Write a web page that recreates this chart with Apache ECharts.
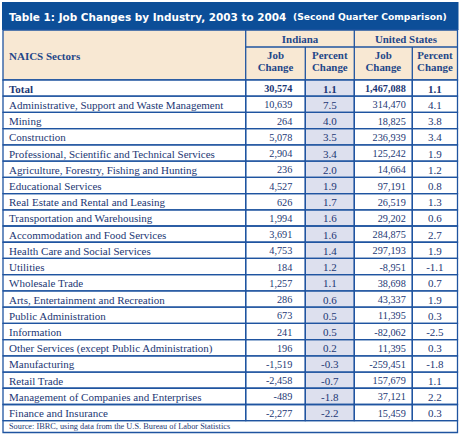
<!DOCTYPE html>
<html><head><meta charset="utf-8">
<script src="https://cdn.jsdelivr.net/npm/echarts@6/dist/echarts.min.js"></script>
<style>html,body{margin:0;padding:0;background:#fff}#c{width:460px;height:435px}</style>
</head><body><div id="c"></div>
<script>
// ---------------- data ----------------
const sectors = ['Total','Administrative, Support and Waste Management','Mining','Construction','Professional, Scientific and Technical Services','Agriculture, Forestry, Fishing and Hunting','Educational Services','Real Estate and Rental and Leasing','Transportation and Warehousing','Accommodation and Food Services','Health Care and Social Services','Utilities','Wholesale Trade','Arts, Entertainment and Recreation','Public Administration','Information','Other Services (except Public Administration)','Manufacturing','Retail Trade','Management of Companies and Enterprises','Finance and Insurance'];
const indianaJobChange = [30574,10639,264,5078,2904,236,4527,626,1994,3691,4753,184,1257,286,673,241,196,-1519,-2458,-489,-2277];
const indianaPctChange = [1.1,7.5,4.0,3.5,3.4,2.0,1.9,1.7,1.6,1.6,1.4,1.2,1.1,0.6,0.5,0.5,0.2,-0.3,-0.7,-1.8,-2.2];
const usJobChange = [1467088,314470,18825,236939,125242,14664,97191,26519,29202,284875,297193,-8951,38698,43337,11395,-82062,11395,-259451,157679,37121,15459];
const usPctChange = [1.1,4.1,3.8,3.4,1.9,1.2,0.8,1.3,0.6,2.7,1.9,-1.1,0.7,1.9,0.3,-2.5,0.3,-1.8,1.1,2.2,0.3];
const titleMain = 'Table 1: Job Changes by Industry, 2003 to 2004';
const titleSub = '(Second Quarter Comparison)';
const rowHeader = 'NAICS Sectors';
const groupLabels = ['Indiana', 'United States'];
const columnLabels = ['Job\nChange', 'Percent\nChange', 'Job\nChange', 'Percent\nChange'];
const sourceNote = 'Source: IBRC, using data from the U.S. Bureau of Labor Statistics';

// ---------------- layout / style ----------------
const L = 3, R = 457.5;
const titleTop = 2, titleBot = 30, groupLine = 47, headBot = 80, bodyBot = 420.7, footBot = 432.5;
const colEdges = [0, 242.7, 302.3, 351.3, 409.3, 454.5];
const blue = '#0c4e98', lineC = '#1f54a0', cream = '#f8e8d3', lav = '#dde0ee';
const txtC = '#1c3774', headC = '#1f4789';
const serif = '"Liberation Serif", "Times New Roman", serif';
const LW = 1.3;

const fmtInt = v => (v < 0 ? '-' : '') + Math.abs(v).toLocaleString('en-US');
const fmtPct = v => v.toFixed(1);

const columns = [
  { values: sectors, fmt: v => v, align: 'left', pad: 6, fill: '#fff', sx: 1 },
  { values: indianaJobChange, fmt: fmtInt, align: 'right', pad: 13, fill: '#fff', sx: 0.93 },
  { values: indianaPctChange, fmt: fmtPct, align: 'center', pad: 0, fill: lav, sx: 1 },
  { values: usJobChange, fmt: fmtInt, align: 'right', pad: 6.5, fill: '#fff', sx: 0.93 },
  { values: usPctChange, fmt: fmtPct, align: 'center', pad: 0, fill: '#fff', sx: 1 }
];

function makeRenderer(c) {
  const col = columns[c];
  return function (params, api) {
    const row = api.value(0);
    const pL = api.coord([colEdges[c], row]);
    const pR = api.coord([colEdges[c + 1], row]);
    const h = api.size([0, 1])[1];
    const x0 = pL[0], x1 = pR[0], yc = pL[1];
    let tx;
    if (col.align === 'left') tx = x0 + col.pad;
    else if (col.align === 'right') tx = x1 - col.pad;
    else tx = (x0 + x1) / 2;
    return {
      type: 'group',
      children: [
        { type: 'rect', z2: 0, shape: { x: x0, y: yc - h / 2, width: x1 - x0, height: h }, style: { fill: col.fill } },
        { type: 'rect', z2: 10, shape: { x: x0, y: yc - h / 2, width: x1 - x0, height: h }, style: { fill: 'none', stroke: lineC, lineWidth: LW } },
        { type: 'text', z2: 20, x: tx, y: yc + 0.5, scaleX: col.sx, style: {
            text: col.fmt(col.values[params.dataIndex]), align: col.align, verticalAlign: 'middle',
            fontFamily: serif, fontSize: 11, fontWeight: row === 0 ? 'bold' : 'normal', fill: txtC } }
      ]
    };
  };
}

const series = columns.map((col, c) => ({
  type: 'custom',
  name: 'col' + c,
  coordinateSystem: 'cartesian2d',
  renderItem: makeRenderer(c),
  dimensions: ['row', { name: 'value', type: c === 0 ? 'ordinal' : 'number' }],
  encode: { y: 0 },
  data: col.values.map((v, i) => [i, v]),
  silent: true,
  clip: false
}));

// header graphics
const gx = i => L + colEdges[i];
const g = [];
g.push({ type: 'rect', shape: { x: L - 1, y: titleTop, width: R - L + 2, height: titleBot - titleTop }, style: { fill: blue } });
g.push({ type: 'text', x: 9, y: 16.5, style: { text: titleMain, fill: '#fff', fontFamily: '"DejaVu Sans"', fontWeight: 'bold', fontSize: 10.45, verticalAlign: 'middle' } });
g.push({ type: 'text', x: 293, y: 17, scaleX: 1.08, style: { text: titleSub, fill: '#fff', fontFamily: '"DejaVu Sans"', fontWeight: 'bold', fontSize: 8.5, verticalAlign: 'middle' } });
g.push({ type: 'rect', shape: { x: L, y: titleBot, width: R - L, height: headBot - titleBot }, style: { fill: cream, stroke: lineC, lineWidth: LW } });
g.push({ type: 'line', shape: { x1: gx(1), y1: titleBot, x2: gx(1), y2: headBot }, style: { stroke: lineC, lineWidth: LW } });
g.push({ type: 'line', shape: { x1: gx(3), y1: titleBot, x2: gx(3), y2: headBot }, style: { stroke: lineC, lineWidth: LW } });
g.push({ type: 'line', shape: { x1: gx(2), y1: groupLine, x2: gx(2), y2: headBot }, style: { stroke: lineC, lineWidth: LW } });
g.push({ type: 'line', shape: { x1: gx(4), y1: groupLine, x2: gx(4), y2: headBot }, style: { stroke: lineC, lineWidth: LW } });
g.push({ type: 'line', shape: { x1: gx(1), y1: groupLine, x2: R, y2: groupLine }, style: { stroke: lineC, lineWidth: LW } });
g.push({ type: 'text', x: 9, y: 55.5, style: { text: rowHeader, fill: headC, fontFamily: serif, fontWeight: 'bold', fontSize: 11, verticalAlign: 'middle' } });
g.push({ type: 'text', x: (gx(1) + gx(3)) / 2, y: 39, style: { text: groupLabels[0], fill: headC, fontFamily: serif, fontWeight: 'bold', fontSize: 10.9, align: 'center', verticalAlign: 'middle' } });
g.push({ type: 'text', x: (gx(3) + gx(5)) / 2, y: 39, style: { text: groupLabels[1], fill: headC, fontFamily: serif, fontWeight: 'bold', fontSize: 10.9, align: 'center', verticalAlign: 'middle' } });
for (let i = 0; i < 4; i++) {
  g.push({ type: 'text', x: (gx(i + 1) + gx(i + 2)) / 2, y: 60.5, style: { text: columnLabels[i], fill: headC, fontFamily: serif, fontWeight: 'bold', fontSize: 10.9, lineHeight: 12, align: 'center', verticalAlign: 'middle' } });
}
// footer
g.push({ type: 'rect', shape: { x: L, y: bodyBot, width: R - L, height: footBot - bodyBot }, style: { fill: '#fff', stroke: lineC, lineWidth: LW } });
g.push({ type: 'text', x: 9, y: 427, scaleX: 1.08, style: { text: sourceNote, fill: txtC, fontFamily: serif, fontSize: 7.7, verticalAlign: 'middle' } });

const chart = echarts.init(document.getElementById('c'), null, { renderer: 'svg' });
chart.setOption({
  animation: false,
  backgroundColor: '#fff',
  grid: { left: L, top: headBot, width: R - L, height: bodyBot - headBot, containLabel: false },
  xAxis: { type: 'value', min: 0, max: R - L, show: false },
  yAxis: { type: 'category', data: sectors, inverse: true, show: false },
  graphic: g,
  series: series
});
</script></body></html>
